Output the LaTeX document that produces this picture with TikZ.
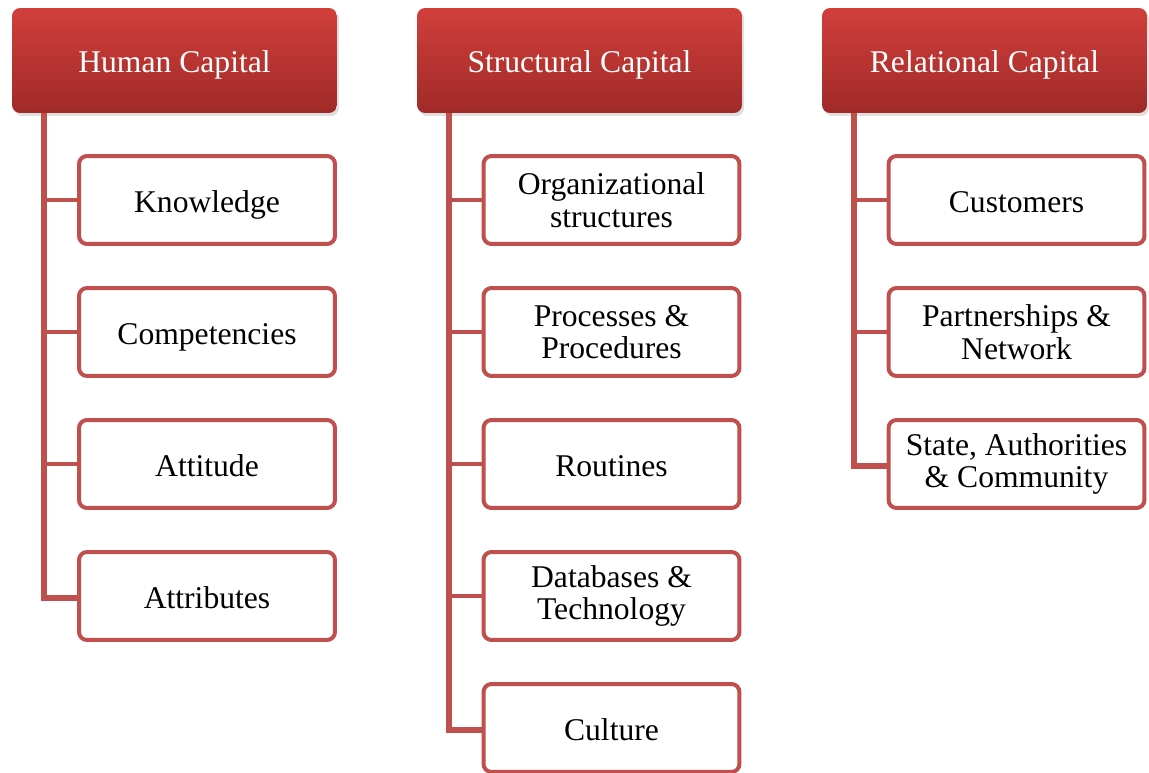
\documentclass[tikz,border=0pt]{standalone}
\usepackage{fontspec}
\setmainfont{Liberation Serif}
\usetikzlibrary{shadows}
\definecolor{capred}{RGB}{192,80,77}
\definecolor{headtop}{RGB}{209,63,59}
\definecolor{headbot}{RGB}{160,42,40}

\begin{document}
\begin{tikzpicture}[x=0.02cm, y=-0.02cm,
  head/.style={rounded corners=0.16cm, minimum width=6.5cm, minimum height=2.1cm,
    top color=headtop, bottom color=headbot, text=white,
    drop shadow={opacity=0.25, shadow xshift=0.04cm, shadow yshift=-0.06cm},
    font=\fontsize{18}{18.5}\selectfont, text height=1.6em, text depth=0.2em},
  item/.style={draw=capred, line width=0.08cm, rounded corners=0.16cm, fill=white,
    minimum width=5.12cm, minimum height=1.76cm, align=center,
    font=\fontsize{18}{18.5}\selectfont},
  single/.style={item, text height=1.6em, text depth=0.2em},
  spine/.style={draw=capred, line width=0.12cm,
    preaction={draw=black!22, transform canvas={shift={(1.2pt,-1.6pt)}}}},
  stub/.style={draw=capred, line width=0.08cm}]
\useasboundingbox (0,0) rectangle (1149,773);

% headers
\node [head] (hc) at (174.5,60.5) {Human Capital};
\node [head] (sc) at (579.5,60.5) {Structural Capital};
\node [head] (rc) at (984.5,60.5) {Relational Capital};

% spine start points
\coordinate (hs) at (44,113);
\coordinate (ss) at (449,113);
\coordinate (rs) at (854,113);

% human capital
\draw [spine] (hs) |- (207,598);
\node [single] (h1) at (207,200) {Knowledge};
\node [single] (h2) at (207,332) {Competencies};
\node [single] (h3) at (207,464) {Attitude};
\node [single] (h4) at (207,596) {Attributes};
\foreach \i in {1,2,3}
  \draw [stub] (hs |- h\i.west) -- (h\i.west);

% structural capital
\draw [spine] (ss) |- (611.5,730);
\node [item] (s1) at (611.5,200) {Organizational\\structures};
\node [item] (s2) at (611.5,332) {Processes \&\\Procedures};
\node [single] (s3) at (611.5,464) {Routines};
\node [item] (s4) at (611.5,596) {Databases \&\\Technology};
\node [single] (s5) at (611.5,728) {Culture};
\foreach \i in {1,2,3,4}
  \draw [stub] (ss |- s\i.west) -- (s\i.west);

% relational capital
\draw [spine] (rs) |- (1016.5,466);
\node [single] (r1) at (1016.5,200) {Customers};
\node [item] (r2) at (1016.5,332) {Partnerships \&\\Network};
\node [item] (r3) at (1016.5,464) {State, Authorities\\\& Community};
\foreach \i in {1,2}
  \draw [stub] (rs |- r\i.west) -- (r\i.west);
\end{tikzpicture}
\end{document}
